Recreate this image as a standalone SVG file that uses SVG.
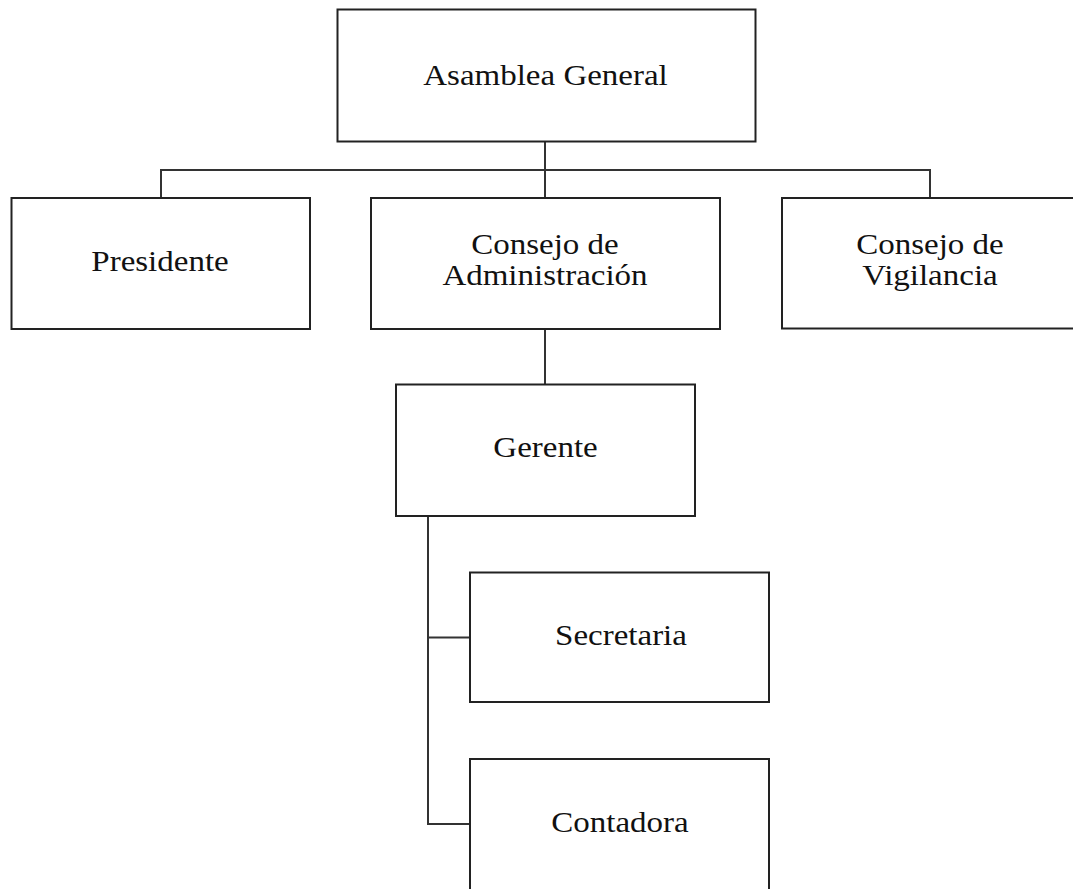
<svg xmlns="http://www.w3.org/2000/svg" width="1073" height="889" viewBox="0 0 1073 889">
<style>
.box{fill:#fff;stroke:#222;stroke-width:2}
.lbl{font-family:"Liberation Serif","Times New Roman",serif;font-size:30px;fill:#111;text-anchor:middle}
.conn{fill:none;stroke:#333;stroke-width:2}
</style>
<rect width="1073" height="889" fill="#fff"/>
<g id="connectors">
<path class="conn" d="M545 142V198M161 198V170H930V198"/>
<path class="conn" d="M545 329V384"/>
<path class="conn" d="M428 516V824H470M428 637.5H470"/>
</g>
<g id="asamblea">
<rect class="box" x="337.5" y="9.5" width="418" height="132"/>
<text class="lbl" transform="translate(545.5 85) scale(1.1 1)">Asamblea General</text>
</g>
<g id="presidente">
<rect class="box" x="11.5" y="198" width="298.5" height="131"/>
<text class="lbl" transform="translate(160 271) scale(1.1 1)">Presidente</text>
</g>
<g id="consejo-administracion">
<rect class="box" x="371" y="198" width="349" height="131"/>
<text class="lbl" transform="translate(545 254) scale(1.1 1)">Consejo de</text>
<text class="lbl" transform="translate(545 285) scale(1.1 1)">Administración</text>
</g>
<g id="consejo-vigilancia">
<rect class="box" x="782" y="198" width="300" height="130.5"/>
<text class="lbl" transform="translate(930 254) scale(1.1 1)">Consejo de</text>
<text class="lbl" transform="translate(930 285) scale(1.1 1)">Vigilancia</text>
</g>
<g id="gerente">
<rect class="box" x="396" y="384.5" width="299" height="131.5"/>
<text class="lbl" transform="translate(545.5 457) scale(1.1 1)">Gerente</text>
</g>
<g id="secretaria">
<rect class="box" x="470" y="572.5" width="299" height="129.5"/>
<text class="lbl" transform="translate(621 645) scale(1.1 1)">Secretaria</text>
</g>
<g id="contadora">
<rect class="box" x="470" y="759" width="299" height="150"/>
<text class="lbl" transform="translate(620 832) scale(1.1 1)">Contadora</text>
</g>
</svg>
